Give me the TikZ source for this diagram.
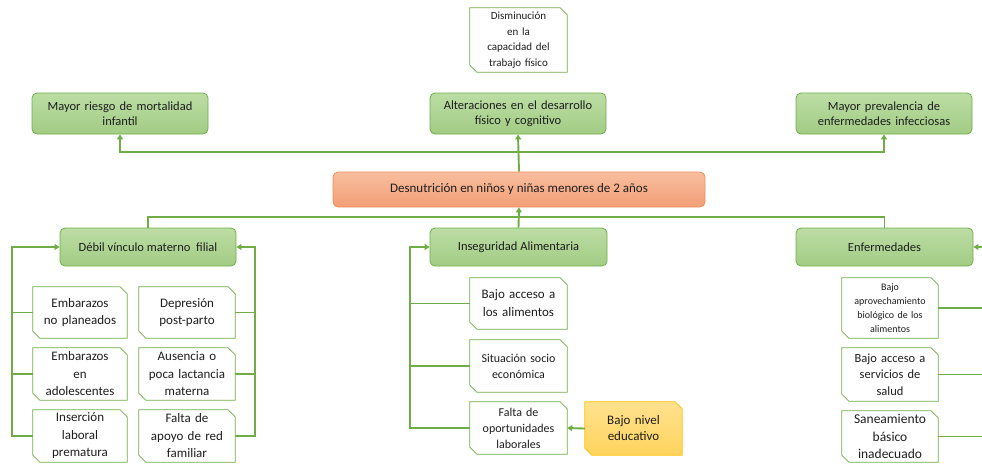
\documentclass[tikz,border=0pt]{standalone}
\usepackage{fontspec}
\setmainfont{Carlito}
\usetikzlibrary{arrows.meta}
\pgfdeclarelayer{background}
\pgfsetlayers{background,main}
\definecolor{gline}{HTML}{70AD47}
\definecolor{gtop}{HTML}{BCDDA5}
\definecolor{gbot}{HTML}{A2CC84}
\definecolor{otop}{HTML}{F8BE9E}
\definecolor{obot}{HTML}{F29E76}
\definecolor{oline}{HTML}{EE8F5F}
\definecolor{ytop}{HTML}{FFE28F}
\definecolor{ybot}{HTML}{FFD35C}
\definecolor{yline}{HTML}{FFC000}
\definecolor{txt}{HTML}{1E1E1E}
\tikzset{
  gbox/.style={draw=gline, line width=0.8pt, rounded corners=5pt, top color=gtop, bottom color=gbot,
    text=txt, align=center, inner sep=2pt, font=\fontsize{12.5}{15}\selectfont},
  obox/.style={gbox, draw=oline, top color=otop, bottom color=obot, font=\fontsize{13}{15}\selectfont},
  snipbox/.style={rectangle, text=txt, align=center, inner sep=1pt},
  sniplook/.style={draw=gline, line width=0.8pt, fill=white},
  ylook/.style={draw=yline, line width=0.8pt, top color=ytop, bottom color=ybot},
  conn/.style={draw=gline, line width=1.9pt},
  arr/.style={conn, -{Triangle[length=5pt,width=6pt]}},
}
\newcommand\snipbg[2]{%
  \begin{pgfonlayer}{background}
  \path[#2] (#1.north west) -- ([xshift=-7pt]#1.north east) -- ([yshift=-7pt]#1.north east)
    -- (#1.south east) -- ([xshift=7pt]#1.south west) -- ([yshift=7pt]#1.south west) -- cycle;
  \end{pgfonlayer}}
\begin{document}
\begin{tikzpicture}[x=1pt,y=-1pt]
\useasboundingbox (0,0) rectangle (982,464);
% top effects
\node[snipbox, minimum width=97pt, minimum height=64pt, text width=90pt, font=\fontsize{11}{15.5}\selectfont] (dism) at (518.5,40) {Disminución\\en la\\capacidad del\\trabajo físico};
\node[gbox, minimum width=176pt, minimum height=41pt, text width=170pt] (mort) at (120,113.5) {Mayor riesgo de mortalidad\\infantil};
\node[gbox, minimum width=176pt, minimum height=41pt, text width=170pt] (alter) at (518,113.5) {Alteraciones en el desarrollo\\físico y cognitivo};
\node[gbox, minimum width=176pt, minimum height=41pt, text width=170pt] (preval) at (884,113.5) {Mayor prevalencia de\\enfermedades infecciosas};
% central problem
\node[obox, minimum width=372pt, minimum height=35pt] (desn) at (519,189.5) {Desnutrición en niños y niñas menores de 2 años};
% causes
\node[gbox, minimum width=176pt, minimum height=38pt] (debil) at (148,247) {Débil vínculo materno\ \ filial};
\node[gbox, minimum width=177pt, minimum height=38pt] (inseg) at (518.5,247) {Inseguridad Alimentaria};
\node[gbox, minimum width=177pt, minimum height=38pt] (enf) at (884.5,247) {Enfermedades};
% debil sub-causes
\begin{scope}[every node/.append style={snipbox, font=\fontsize{13}{17.5}\selectfont, text width=88pt}]
\node[minimum width=94pt, minimum height=51pt] (l1) at (80,312.5) {Embarazos\\no planeados};
\node[minimum width=94pt, minimum height=52pt] (l2) at (80,374) {Embarazos\\en\\adolescentes};
\node[minimum width=94pt, minimum height=52pt] (l3) at (80,436) {Inserción\\laboral\\prematura};
\node[minimum width=96pt, minimum height=51pt] (r1) at (187,312.5) {Depresión\\post-parto};
\node[minimum width=96pt, minimum height=52pt] (r2) at (187,374) {Ausencia o\\poca lactancia\\materna};
\node[minimum width=96pt, minimum height=52pt] (r3) at (187,436) {Falta de\\apoyo de red\\familiar};
\end{scope}
% inseguridad sub-causes
\node[snipbox, minimum width=97pt, minimum height=51pt, text width=90pt, font=\fontsize{13}{18}\selectfont] (i1) at (518.5,303.5) {Bajo acceso a\\los alimentos};
\node[snipbox, minimum width=97pt, minimum height=52pt, text width=90pt, font=\fontsize{12}{16}\selectfont] (i2) at (518.5,366) {Situación socio\\económica};
\node[snipbox, minimum width=97pt, minimum height=52pt, text width=90pt, font=\fontsize{12}{16}\selectfont] (i3) at (518.5,428) {Falta de\\oportunidades\\laborales};
\node[snipbox, minimum width=97pt, minimum height=53pt, text width=90pt, font=\fontsize{13}{16}\selectfont] (yel) at (633.5,428.5) {Bajo nivel\\educativo};
% enfermedades sub-causes
\node[snipbox, minimum width=96pt, minimum height=60pt, text width=90pt, font=\fontsize{10}{14}\selectfont] (e1) at (890,308) {Bajo\\aprovechamiento\\biológico de los\\alimentos};
\node[snipbox, minimum width=96pt, minimum height=53pt, text width=90pt, font=\fontsize{12.5}{16.5}\selectfont] (e2) at (890,374.5) {Bajo acceso a\\servicios de\\salud};
\node[snipbox, minimum width=96pt, minimum height=51pt, text width=90pt, font=\fontsize{13.5}{17.5}\selectfont] (e3) at (890,436.5) {Saneamiento\\básico\\inadecuado};
% snipped outlines
\foreach \n in {dism,l1,l2,l3,r1,r2,r3,i1,i2,i3,e1,e2,e3} {\snipbg{\n}{sniplook}}
\snipbg{yel}{ylook}
% helper coordinates
\coordinate (topbus) at (518,152);
\coordinate (botbus) at (518,217);
\coordinate (lx) at (12,0);
\coordinate (rx) at (255,0);
\coordinate (ix) at (410,0);
\coordinate (ex) at (982,0);
% effects connectors
\draw[arr] (desn.north) -- (alter.south);
\draw[arr] (topbus) -| (mort.south);
\draw[arr] (topbus) -| (preval.south);
% causes connectors
\draw[arr] (inseg.north) -- (desn.south);
\draw[conn] (botbus) -| (debil.north);
\draw[conn] (botbus) -| (enf.north);
% debil brackets
\draw[arr] (l3.west) -- (l3.west -| lx) |- (debil.west);
\draw[conn] (l1.west) -- (l1.west -| lx);
\draw[conn] (l2.west) -- (l2.west -| lx);
\draw[arr] (r3.east) -- (r3.east -| rx) |- (debil.east);
\draw[conn] (r1.east) -- (r1.east -| rx);
\draw[conn] (r2.east) -- (r2.east -| rx);
% inseguridad bracket
\draw[arr] (i3.west) -- (i3.west -| ix) |- (inseg.west);
\draw[conn] (i1.west) -- (i1.west -| ix);
\draw[conn] (i2.west) -- (i2.west -| ix);
\draw[arr] (yel.west) -- (i3.east);
% enfermedades bracket
\draw[arr] (enf.east -| ex) -- (enf.east);
\draw[conn] (e1.east) -- (e1.east -| ex);
\draw[conn] (e2.east) -- (e2.east -| ex);
\draw[conn] (e3.east) -- (e3.east -| ex);
\end{tikzpicture}
\end{document}
